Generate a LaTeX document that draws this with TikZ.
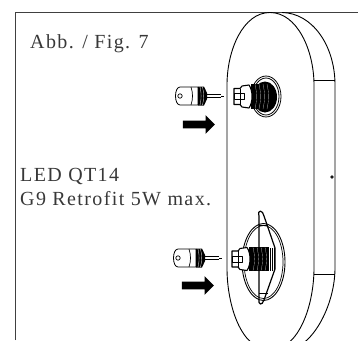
\documentclass[tikz,border=0pt]{standalone}
\usepackage{fontspec}
\setmainfont[LetterSpace=7]{Liberation Serif}
\usepackage{tikz}
\usetikzlibrary{shapes.arrows}
\definecolor{txtgray}{gray}{0.22}
\begin{document}
\begin{tikzpicture}[
x=1pt, y=-1pt,
line join=round,
    L/.style = {text=txtgray, anchor=base west, inner sep=0pt, font=\fontsize{20}{22}\selectfont},% labels
    H/.style = {draw=black, line width=0.9pt},% housing lines
    K/.style = {single arrow, fill=black, draw=none, inner sep=3.7pt, minimum height=32pt,
                single arrow head extend=5.5pt, single arrow head indent=0pt},% big arrows
    lampe/.pic = {% lamp with its pin, origin on the lamp axis
        \draw[line width=0.8pt, fill=white] (-20,-9) .. controls (-26,-9) and (-26,9) .. (-20,9)
            -- (-2,9) -- (-2,-9) -- cycle;
        \fill (-2,-9.5) -- (4,-9.5) -- (7,-3) -- (7,3) -- (4,9.5) -- (-2,9.5) -- cycle;
        \foreach \i in {0,2.5}
            \draw[white, line width=0.3pt] (\i,-9) .. controls (\i+1.5,-3) and (\i+1.5,3) .. (\i,9);
        \draw[line width=0.7pt, fill=white] (-20,0) circle (2.2pt);
        \draw[line width=0.7pt] (-9,-9) .. controls (-7,-3) and (-7,3) .. (-9,9);
        \draw[line width=0.7pt] (7,-1.5) -- (21,-1.5) (7,1.5) -- (21,1.5);
        \draw[line width=0.5pt] (21,0) -- (24,0);
    },
    kappe/.pic = {% socket cap with pins, origin at the cap front
        \draw[line width=1.1pt, fill=white] (0,-8) -- (6,-8) -- (8,-10.5) -- (15,-11.5)
            .. controls (19,-6) and (19,6) .. (15,11.5) -- (8,10.5) -- (6,8) -- (0,8) -- cycle;
        \draw[line width=0.9pt, fill=white] (0,-3) rectangle (10,3);
        \draw[line width=0.9pt] (6,-8) -- (6,8);
    },
    gewinde/.pic = {% threaded black body, 20pt long
        \fill (0,-12.5) rectangle (20,12.5);
        \foreach \i in {4,8,12,16}
            \draw[white, line width=0.15pt] (\i,-12.5) .. controls (\i+2,-4) and (\i+2,4) .. (\i,12.5);
    },
]
\useasboundingbox (0,0) rectangle (358,340);
\begin{scope}
\clip (0,0) rectangle (358,340);
% frame
\draw[draw=black!75, line width=0.9pt] (15.5,340) -- (15.5,12.5) -- (358,12.5);
% housing
\draw[H] (270,12.5) .. controls (243,12.5) and (227,50) .. (227,85) -- (227,268)
    .. controls (227,305) and (241,350) .. (270,350) .. controls (299,350) and (314,305) .. (314,268)
    -- (314,85) .. controls (314,50) and (297,12.5) .. (270,12.5);
\draw[H] (282,12.5) .. controls (312,13) and (335,45) .. (335,85) -- (335,268)
    .. controls (335,305) and (312,350) .. (285,350);
\draw[H] (314,80.5) -- (335,80.5);
\draw[H] (314,274.5) -- (335,274.5);
\draw[line width=0.8pt] (332,177) circle (1.3pt);
% upper socket
\draw[line width=0.8pt, fill=white] (266,96.5) ellipse (15pt and 20.5pt);
\draw[line width=0.8pt, fill=white] (266,96.5) ellipse (13pt and 18.5pt);
\fill (265,97) ellipse (12pt and 15.5pt);
\pic at (251,96.5) {gewinde};
\pic at (234,96.5) {kappe};
% lower socket
\draw[line width=0.9pt] (263.5,262) ellipse (21.5pt and 38.5pt);
\draw[line width=0.7pt] (263.5,262) ellipse (19.5pt and 36.5pt);
\draw[line width=1.2pt] (259,216) .. controls (257,209) and (263,210) .. (264,216)
    -- (275,248) -- (275,269) -- (264,300) .. controls (262,306) and (258,305) .. (259,299) -- cycle;
\draw[line width=0.8pt] (259,225) -- (268,225) (259,293) -- (268,293);
\foreach \i in {270,272,274}
    \draw[line width=1pt] (\i,248) -- (\i,271);
\pic[yscale=0.93] at (249,259) {gewinde};
\pic at (232,259) {kappe};
% lamps
\pic at (200,96) {lampe};
\pic at (198,258) {lampe};
% arrows
\node[K] (ArrowA) at (197,124.5) {};
\node[K] (ArrowB) at (196,285.5) {};
% labels
\node[L] (Fig)  at (30,48)   {Abb. / Fig. 7};
\node[L] (Type) at (20,181)  {LED QT14};
\node[L] (Sock) at (20,205.5)  {G9 Retrofit 5W max.};
\end{scope}
\end{tikzpicture}
\end{document}
